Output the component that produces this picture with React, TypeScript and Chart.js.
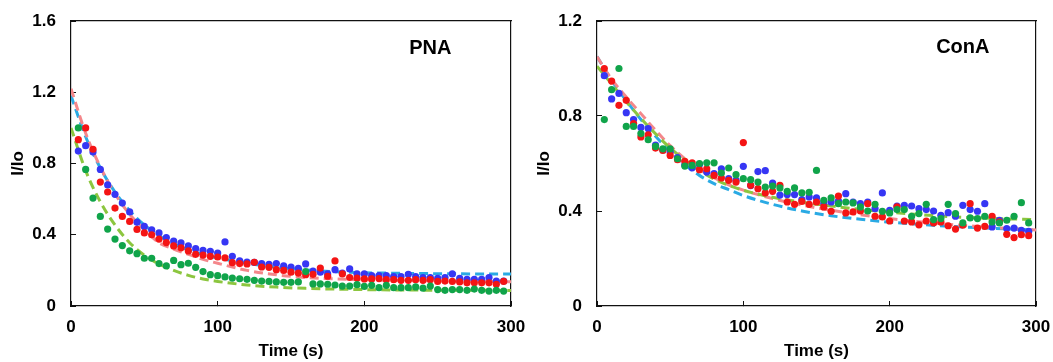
import React, { useEffect, useRef } from "react";
import { Chart, registerables } from "chart.js";

Chart.register(...registerables);

// ---------- data ----------
const times = [5, 10, 15, 20, 25, 30, 35, 40, 45, 50, 55, 60, 65, 70, 75, 80, 85, 90, 95, 100, 105, 110, 115, 120, 125, 130, 135, 140, 145, 150, 155, 160, 165, 170, 175, 180, 185, 190, 195, 200, 205, 210, 215, 220, 225, 230, 235, 240, 245, 250, 255, 260, 265, 270, 275, 280, 285, 290, 295];

const pnaBlue = [0.87, 0.9, 0.865, 0.767, 0.68, 0.627, 0.578, 0.528, 0.47, 0.447, 0.428, 0.41, 0.384, 0.365, 0.354, 0.337, 0.322, 0.312, 0.307, 0.297, 0.36, 0.279, 0.253, 0.247, 0.245, 0.238, 0.234, 0.238, 0.225, 0.219, 0.211, 0.236, 0.196, 0.19, 0.18, 0.204, 0.185, 0.208, 0.18, 0.18, 0.17, 0.17, 0.17, 0.165, 0.165, 0.178, 0.165, 0.16, 0.16, 0.155, 0.16, 0.18, 0.155, 0.15, 0.15, 0.15, 0.16, 0.14, 0.14];
const pnaRed = [0.934, 1.0, 0.88, 0.696, 0.64, 0.55, 0.503, 0.475, 0.43, 0.41, 0.4, 0.376, 0.356, 0.337, 0.327, 0.309, 0.29, 0.286, 0.279, 0.275, 0.27, 0.243, 0.238, 0.236, 0.245, 0.219, 0.217, 0.204, 0.2, 0.19, 0.185, 0.176, 0.178, 0.213, 0.167, 0.253, 0.18, 0.16, 0.157, 0.152, 0.152, 0.154, 0.148, 0.148, 0.144, 0.144, 0.148, 0.144, 0.148, 0.138, 0.14, 0.138, 0.135, 0.13, 0.13, 0.13, 0.13, 0.122, 0.138];
const pnaGreen = [1.0, 0.767, 0.606, 0.503, 0.432, 0.376, 0.339, 0.31, 0.294, 0.268, 0.268, 0.238, 0.225, 0.256, 0.232, 0.24, 0.217, 0.193, 0.176, 0.17, 0.163, 0.157, 0.153, 0.15, 0.144, 0.14, 0.138, 0.135, 0.133, 0.133, 0.135, 0.193, 0.124, 0.124, 0.122, 0.118, 0.112, 0.112, 0.12, 0.11, 0.116, 0.103, 0.116, 0.103, 0.103, 0.103, 0.107, 0.1, 0.112, 0.092, 0.088, 0.092, 0.092, 0.088, 0.095, 0.088, 0.084, 0.088, 0.084];

const conaBlue = [0.97, 0.872, 0.895, 0.814, 0.785, 0.752, 0.747, 0.677, 0.658, 0.648, 0.625, 0.594, 0.582, 0.596, 0.564, 0.557, 0.578, 0.536, 0.529, 0.588, 0.507, 0.566, 0.57, 0.518, 0.467, 0.469, 0.469, 0.448, 0.459, 0.455, 0.435, 0.438, 0.442, 0.473, 0.438, 0.431, 0.438, 0.41, 0.476, 0.403, 0.421, 0.424, 0.421, 0.41, 0.406, 0.4, 0.382, 0.393, 0.378, 0.424, 0.406, 0.399, 0.431, 0.333, 0.361, 0.326, 0.328, 0.319, 0.314];
const conaRed = [1.0, 0.947, 0.845, 0.866, 0.768, 0.712, 0.721, 0.665, 0.655, 0.634, 0.616, 0.609, 0.603, 0.574, 0.578, 0.55, 0.539, 0.529, 0.522, 0.688, 0.508, 0.494, 0.476, 0.483, 0.508, 0.438, 0.428, 0.44, 0.428, 0.438, 0.417, 0.399, 0.463, 0.392, 0.396, 0.4, 0.431, 0.378, 0.375, 0.358, 0.417, 0.358, 0.354, 0.342, 0.358, 0.35, 0.354, 0.338, 0.324, 0.34, 0.431, 0.328, 0.335, 0.378, 0.354, 0.302, 0.288, 0.3, 0.296];
const conaGreen = [0.785, 0.911, 1.0, 0.756, 0.756, 0.726, 0.7, 0.672, 0.662, 0.662, 0.62, 0.589, 0.592, 0.6, 0.603, 0.603, 0.56, 0.581, 0.553, 0.536, 0.532, 0.522, 0.501, 0.505, 0.497, 0.483, 0.497, 0.476, 0.479, 0.571, 0.445, 0.455, 0.431, 0.438, 0.434, 0.417, 0.4, 0.428, 0.399, 0.392, 0.406, 0.406, 0.378, 0.389, 0.428, 0.364, 0.368, 0.428, 0.389, 0.35, 0.371, 0.368, 0.378, 0.354, 0.35, 0.361, 0.378, 0.435, 0.35];

// fitted curves
const fitTimes = [0, 10, 20, 30, 40, 50, 60, 70, 80, 90, 100, 120, 140, 160, 180, 200, 220, 240, 260, 280, 300];
const pnaFitBlue = [1.18, 0.95, 0.775, 0.64, 0.535, 0.455, 0.395, 0.35, 0.315, 0.29, 0.27, 0.24, 0.218, 0.203, 0.193, 0.187, 0.184, 0.182, 0.181, 0.18, 0.18];
const pnaFitRed = [1.22, 0.97, 0.78, 0.63, 0.515, 0.43, 0.355, 0.32, 0.29, 0.262, 0.24, 0.2, 0.175, 0.16, 0.152, 0.147, 0.144, 0.142, 0.14, 0.138, 0.136];
const pnaFitGreen = [1.0, 0.76, 0.585, 0.455, 0.355, 0.285, 0.235, 0.2, 0.172, 0.152, 0.138, 0.118, 0.106, 0.099, 0.095, 0.092, 0.09, 0.089, 0.088, 0.088, 0.087];
const conaFitBlue = [1.05, 0.95, 0.865, 0.785, 0.715, 0.65, 0.595, 0.55, 0.515, 0.49, 0.465, 0.428, 0.4, 0.38, 0.365, 0.353, 0.344, 0.336, 0.33, 0.325, 0.32];
const conaFitRed = [1.05, 0.955, 0.88, 0.81, 0.74, 0.675, 0.62, 0.575, 0.54, 0.51, 0.488, 0.452, 0.425, 0.403, 0.384, 0.368, 0.355, 0.344, 0.335, 0.327, 0.32];
const conaFitGreen = [1.01, 0.935, 0.86, 0.79, 0.725, 0.665, 0.615, 0.57, 0.535, 0.508, 0.487, 0.458, 0.437, 0.421, 0.407, 0.395, 0.385, 0.377, 0.371, 0.367, 0.364];

const xTicks = [0, 100, 200, 300];
const pnaYTicks = [0, 0.4, 0.8, 1.2, 1.6];
const conaYTicks = [0, 0.4, 0.8, 1.2];

const xTitle = "Time (s)";
const yTitle = "I/Io";

// ---------- styles ----------
const FONT = "'Liberation Sans', Arial, sans-serif";
const BLUE = "#3636F4";
const RED = "#F41414";
const GREEN = "#10A44A";
const CYAN = "#2AAAE4";
const PINK = "#F4878B";
const LIME = "#8CC63F";
const AXIS = "#111";

type PanelProps = {
  blue: number[];
  red: number[];
  green: number[];
  fitBlue: number[];
  fitRed: number[];
  fitGreen: number[];
  yTicks: number[];
  label: string;
  labelX: number;
  labelY: number;
  width: number;
  rightPad: number;
  left: number;
};

function toXY(xs: number[], ys: number[]) {
  return xs.map((x, i) => ({ x, y: ys[i] }));
}

function Panel(p: PanelProps) {
  const ref = useRef<HTMLCanvasElement | null>(null);
  useEffect(() => {
    if (!ref.current) return;
    const yMax = p.yTicks[p.yTicks.length - 1];
    const scatter = (data: number[], color: string, order: number) => ({
      type: "scatter" as const,
      data: toXY(times, data),
      backgroundColor: color,
      borderWidth: 0,
      pointRadius: 3.6,
      order,
    });
    const fit = (data: number[], color: string, order: number) => ({
      type: "line" as const,
      data: toXY(fitTimes, data),
      borderColor: color,
      borderWidth: 3,
      borderDash: [9, 5],
      pointRadius: 0,
      fill: false,
      cubicInterpolationMode: "monotone" as const,
      order,
    });
    const plugin = {
      id: "panelLabel",
      afterDraw(chart: any) {
        const { ctx, scales } = chart;
        ctx.save();
        ctx.fillStyle = "#000";
        ctx.font = `bold 20px ${FONT}`;
        ctx.textAlign = "center";
        ctx.textBaseline = "middle";
        ctx.fillText(p.label, scales.x.getPixelForValue(p.labelX), scales.y.getPixelForValue(p.labelY));
        ctx.restore();
      },
    };
    const frameAxis = (axis: "x" | "y", position: string, max: number) => ({
      type: "linear",
      axis,
      position,
      min: 0,
      max,
      display: true,
      afterFit: (s: any) => {
        if (axis === "x") s.height = 0;
        else s.width = 0;
        s.paddingLeft = 0;
        s.paddingRight = 0;
        s.paddingTop = 0;
        s.paddingBottom = 0;
      },
      border: { display: true, color: AXIS, width: 1.2 },
      grid: { display: false, drawOnChartArea: false, drawTicks: false },
      ticks: { display: false },
      title: { display: false },
    });
    const chart = new Chart(ref.current, {
      type: "scatter",
      data: {
        datasets: [
          fit(p.fitBlue, CYAN, 6),
          fit(p.fitRed, PINK, 5),
          fit(p.fitGreen, LIME, 4),
          scatter(p.blue, BLUE, 3),
          scatter(p.red, RED, 2),
          scatter(p.green, GREEN, 1),
        ] as any,
      },
      options: {
        responsive: false,
        animation: false,
        layout: { padding: { left: 0, right: p.rightPad, top: 21, bottom: 0 } },
        plugins: { legend: { display: false }, tooltip: { enabled: false } },
        scales: {
          x: {
            type: "linear",
            position: "bottom",
            min: 0,
            max: 300,
            afterBuildTicks: (s: any) => {
              s.ticks = xTicks.map((v) => ({ value: v }));
            },
            afterFit: (s: any) => {
              s.height = 56;
              s.paddingLeft = 0;
              s.paddingRight = 0;
            },
            border: { display: true, color: AXIS, width: 1.2 },
            grid: { drawOnChartArea: false, drawTicks: true, tickLength: -5, color: AXIS },
            ticks: {
              padding: 16,
              color: "#000",
              font: { family: FONT, size: 17, weight: "bold" },
              callback: (v: any) => String(v),
              maxRotation: 0,
            },
            title: {
              display: true,
              text: xTitle,
              color: "#000",
              font: { family: FONT, size: 17, weight: "bold" },
              padding: { top: 0, bottom: 0 },
            },
          },
          y: {
            type: "linear",
            position: "left",
            min: 0,
            max: yMax,
            afterBuildTicks: (s: any) => {
              s.ticks = p.yTicks.map((v) => ({ value: v }));
            },
            afterFit: (s: any) => {
              s.width = 71;
              s.paddingTop = 0;
              s.paddingBottom = 0;
            },
            border: { display: true, color: AXIS, width: 1.2 },
            grid: { drawOnChartArea: false, drawTicks: true, tickLength: -5, color: AXIS },
            ticks: {
              padding: 20,
              color: "#000",
              font: { family: FONT, size: 17, weight: "bold" },
              callback: (v: any) => String(v),
            },
            title: {
              display: true,
              text: yTitle,
              color: "#000",
              font: { family: FONT, size: 17, weight: "bold" },
              padding: { top: 8, bottom: 0 },
            },
          },
          xTop: frameAxis("x", "top", 300),
          yRight: frameAxis("y", "right", yMax),
        },
      } as any,
      plugins: [plugin],
    });
    return () => chart.destroy();
  }, []);
  return (
    <div style={{ position: "absolute", left: p.left, top: 0, width: p.width, height: 362 }}>
      <canvas ref={ref} width={p.width} height={362} style={{ display: "block" }} />
    </div>
  );
}

export default function App() {
  return (
    <div style={{ position: "fixed", left: 0, top: 0, width: 1053, height: 362, background: "#fff", overflow: "hidden" }}>
      <Panel
        blue={pnaBlue}
        red={pnaRed}
        green={pnaGreen}
        fitBlue={pnaFitBlue}
        fitRed={pnaFitRed}
        fitGreen={pnaFitGreen}
        yTicks={pnaYTicks}
        label="PNA"
        labelX={245}
        labelY={1.445}
        width={526}
        rightPad={15}
        left={0}
      />
      <Panel
        blue={conaBlue}
        red={conaRed}
        green={conaGreen}
        fitBlue={conaFitBlue}
        fitRed={conaFitRed}
        fitGreen={conaFitGreen}
        yTicks={conaYTicks}
        label="ConA"
        labelX={250}
        labelY={1.09}
        width={527}
        rightPad={17}
        left={526}
      />
    </div>
  );
}
